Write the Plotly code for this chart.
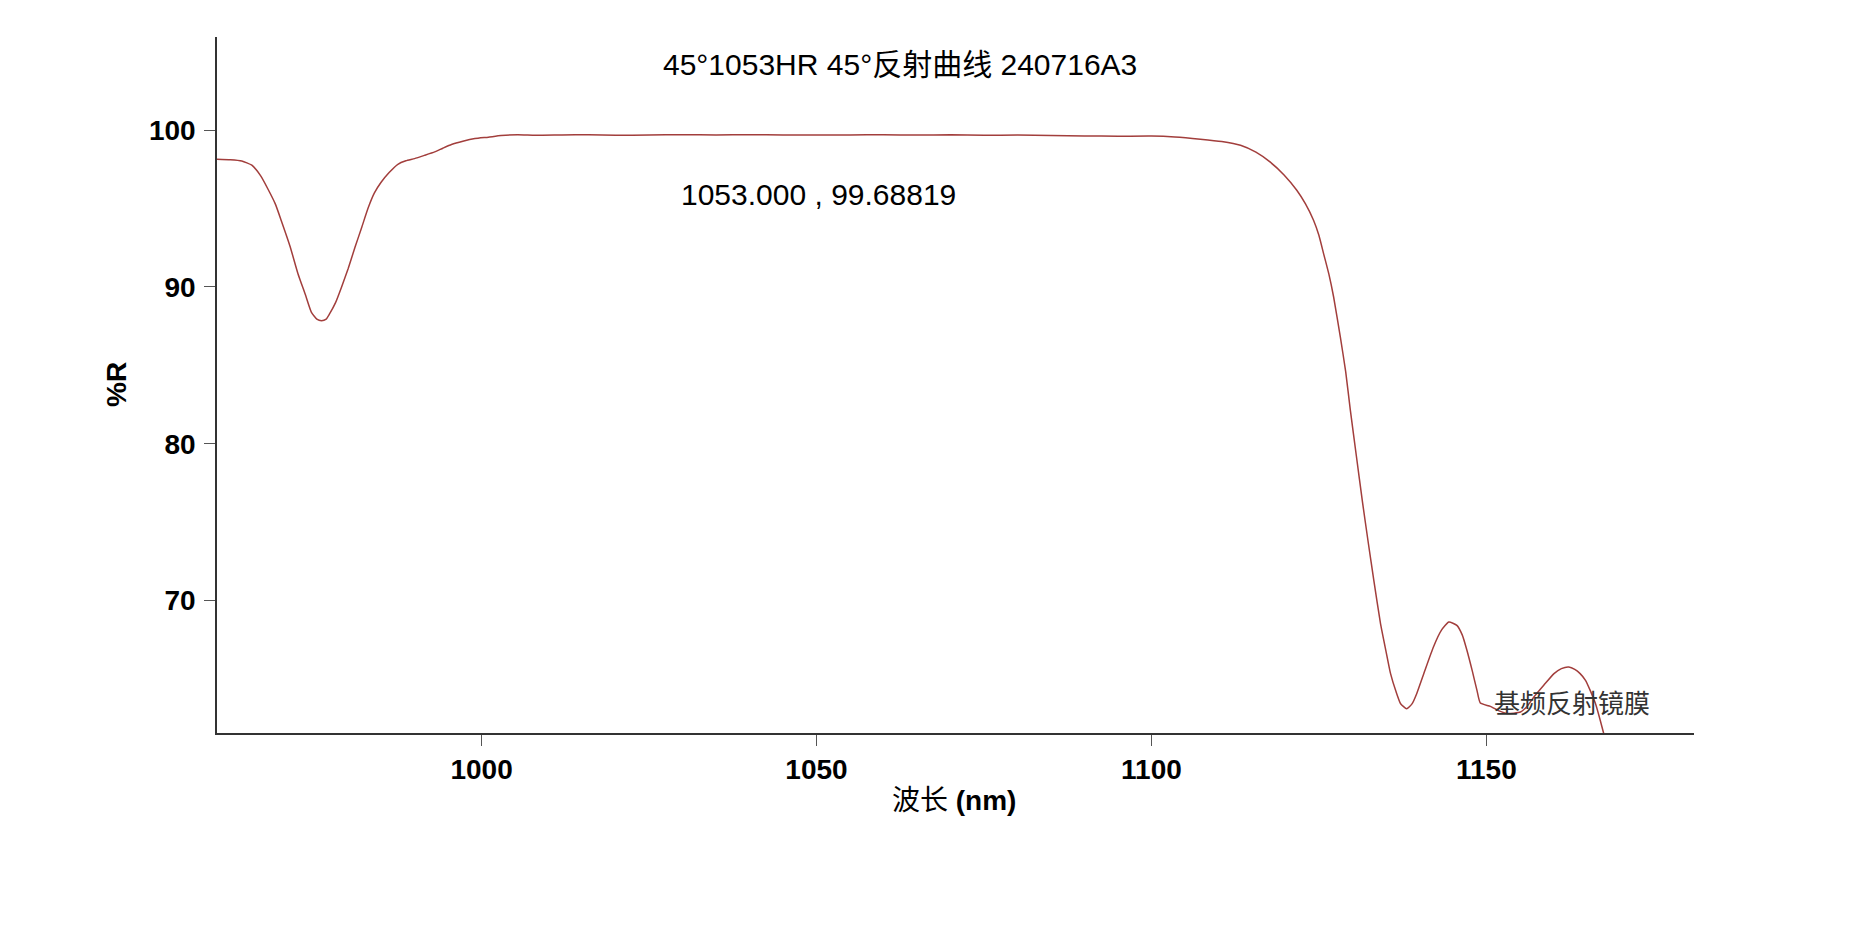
import plotly.graph_objects as go

wavelength = [960.5, 962.5, 964.2, 965.7, 967.0, 968.1, 969.2, 970.1, 971.4, 972.6,
              973.7, 974.6, 975.4, 976.1, 976.8, 977.3, 978.2, 979.1, 980.1, 981.1,
              982.1, 983.1, 984.0, 985.0, 986.2, 987.5, 988.7, 990.0, 991.5, 993.0,
              994.2, 995.5, 997.2, 999.0, 1001.0, 1002.9, 1005.4, 1008, 1012, 1016,
              1020, 1025, 1030, 1035, 1040, 1045, 1050, 1055, 1060, 1065,
              1070, 1075, 1080, 1085, 1090, 1095, 1100, 1103.5, 1107.3, 1110.5,
              1113.3, 1115.6, 1117.7, 1119.8, 1121.7, 1123.0, 1124.2, 1125.0, 1125.7, 1126.5,
              1127.2, 1128.2, 1129.0, 1129.7, 1130.6, 1131.5, 1132.4, 1133.2, 1134.2, 1135.0,
              1135.7, 1136.5, 1137.2, 1138.1, 1138.9, 1139.6, 1140.8, 1142.1, 1143.3, 1144.4,
              1145.6, 1146.4, 1147.1, 1147.9, 1148.6, 1149.1, 1150.6, 1151.9, 1153.1, 1155.1,
              1156.1, 1157.1, 1158.6, 1160.1, 1161.2, 1162.3, 1163.2, 1164.0, 1164.8, 1165.5,
              1166.3, 1167.0, 1167.5, 1168.5]

reflectance = [98.15, 98.12, 98.04, 97.77, 97.1, 96.25, 95.3, 94.23, 92.6, 90.83,
               89.5, 88.38, 87.95, 87.85, 87.95, 88.28, 89.0, 90.0, 91.2, 92.53,
               93.8, 95.08, 96.0, 96.68, 97.3, 97.83, 98.05, 98.19, 98.4, 98.62,
               98.85, 99.09, 99.3, 99.47, 99.56, 99.66, 99.72, 99.68, 99.70, 99.71,
               99.68, 99.70, 99.71, 99.70, 99.71, 99.70, 99.69, 99.70, 99.71, 99.69,
               99.71, 99.68, 99.69, 99.66, 99.64, 99.62, 99.63, 99.57, 99.43, 99.28,
               99.04, 98.6, 97.98, 97.15, 96.17, 95.3, 94.26, 93.3, 92.13, 90.8,
               89.36, 86.81, 84.6, 82.13, 79.2, 76.3, 73.6, 71.28, 68.52, 66.8,
               65.33, 64.2, 63.41, 63.09, 63.4, 64.05, 65.5, 67.03, 68.1, 68.62,
               68.41, 67.8, 66.82, 65.5, 64.26, 63.45, 63.24, 62.95, 62.78, 62.88,
               63.25, 63.84, 64.6, 65.33, 65.65, 65.75, 65.6, 65.33, 64.9, 64.26,
               63.4, 62.35, 61.54, 59.8]

x_ticks = [1000, 1050, 1100, 1150]
y_ticks = [70, 80, 90, 100]

title_text = "45°1053HR 45°反射曲线 240716A3"
cursor_text = "1053.000 , 99.68819"
curve_label = "基频反射镜膜"

FONT = "Liberation Sans, Arial, Noto Sans CJK SC, sans-serif"

fig = go.Figure()
fig.add_trace(go.Scatter(
    x=wavelength, y=reflectance, mode="lines",
    line=dict(color="#A23E3C", width=1.5, shape="spline", smoothing=0.5),
    showlegend=False, hoverinfo="x+y",
))

fig.update_layout(
    width=1864, height=926,
    paper_bgcolor="white", plot_bgcolor="white",
    margin=dict(l=209, r=178, t=29, b=201),
    font=dict(family=FONT, color="black"),
    xaxis=dict(
        range=[960.5, 1181], tickvals=x_ticks, ticktext=[str(v) for v in x_ticks],
        showline=True, linecolor="#333333", linewidth=1.5,
        ticks="outside", ticklen=11, tickcolor="#555555", tickwidth=1,
        showgrid=False, zeroline=False,
        tickfont=dict(family=FONT, size=28, color="black", weight="bold"),
    ),
    yaxis=dict(
        range=[61.54, 105.95], tickvals=y_ticks, ticktext=[str(v) for v in y_ticks],
        showline=True, linecolor="#333333", linewidth=1.5,
        ticks="outside", ticklen=11, tickcolor="#555555", tickwidth=1,
        showgrid=False, zeroline=False, ticklabelstandoff=3,
        tickfont=dict(family=FONT, size=28, color="black", weight="bold"),
    ),
)

fig.add_annotation(x=1062.5, y=104.2, xref="x", yref="y", text=title_text,
                   showarrow=False, font=dict(family=FONT, size=30, color="black"))
fig.add_annotation(x=1050.3, y=95.92, xref="x", yref="y", text=cursor_text,
                   showarrow=False, font=dict(family=FONT, size=30, color="black"))
fig.add_annotation(x=1162.8, y=63.37, xref="x", yref="y", text=curve_label,
                   showarrow=False, font=dict(family=FONT, size=26, color="#333333"))
fig.add_annotation(x=0.499, y=-0.097, xref="paper", yref="paper",
                   xanchor="center", yanchor="middle",
                   text="波长 <b>(nm)</b>", showarrow=False,
                   font=dict(family=FONT, size=28, color="black"))
fig.add_annotation(x=-0.0679, y=0.501, xref="paper", yref="paper",
                   xanchor="center", yanchor="middle",
                   text="<b>%R</b>", textangle=-90, showarrow=False,
                   font=dict(family=FONT, size=28, color="black"))

fig.write_html("out.html")
